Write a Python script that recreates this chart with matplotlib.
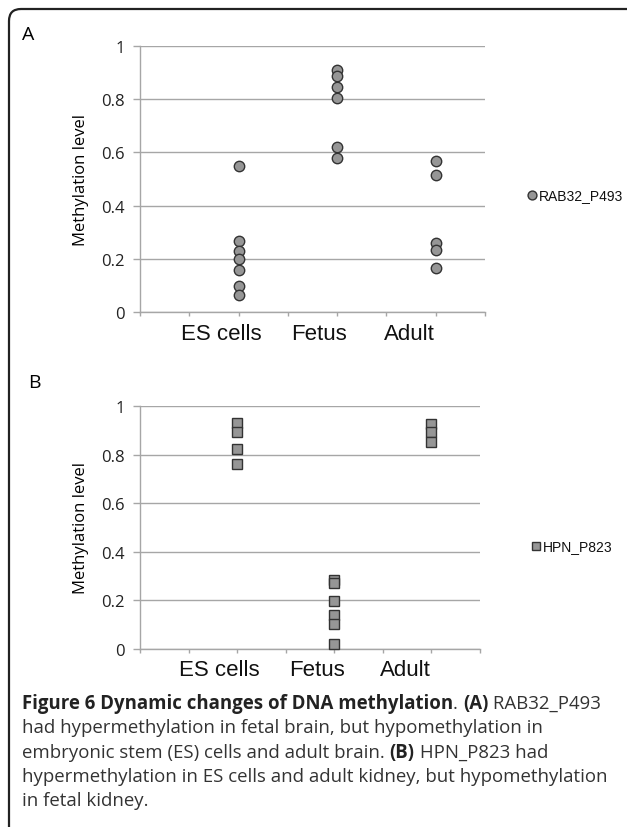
import matplotlib.pyplot as plt
import numpy as np
from matplotlib.path import Path
from matplotlib.patches import PathPatch

# --- données ---
categories = ['ES cells', 'Fetus', 'Adult']
cat_pos = [1, 2, 3]

rab32_es = [0.548, 0.266, 0.229, 0.200, 0.158, 0.098, 0.064]
rab32_fetus = [0.911, 0.886, 0.845, 0.805, 0.622, 0.580]
rab32_adult = [0.568, 0.516, 0.259, 0.232, 0.164]

hpn_es = [0.929, 0.895, 0.821, 0.763]
hpn_fetus = [0.285, 0.270, 0.197, 0.140, 0.103, 0.022]
hpn_adult = [0.926, 0.892, 0.852]

y_ticks = [0, 0.2, 0.4, 0.6, 0.8, 1]
y_tick_labels = ['0', '0.2', '0.4', '0.6', '0.8', '1']

W, H = 627, 828
fig = plt.figure(figsize=(W / 100, H / 100), dpi=100)

grid_col = '#a6a6a6'
fill_col = '#969696'
edge_col = '#333333'
label_shift = [-0.18, -0.18, -0.27]  # étiquettes décalées à gauche comme dans l'original


def panel(rect, groups, marker, ms, series, leg_xy):
    ax = fig.add_axes(rect)
    for x, vals in zip(cat_pos, groups):
        ax.plot([x] * len(vals), vals, linestyle='none', marker=marker, ms=ms,
                mfc=fill_col, mec=edge_col, mew=1.0, clip_on=False, zorder=3)
    ax.set_xlim(0, 3.5)
    ax.set_ylim(0, 1)
    ax.set_yticks(y_ticks)
    ax.set_yticklabels(y_tick_labels, fontsize=12, family='Open Sans', color='#222222')
    ax.set_xticks(np.arange(0, 3.51, 0.5))
    ax.set_xticklabels([])
    ax.tick_params(axis='x', direction='out', length=3, width=1, color=grid_col)
    ax.tick_params(axis='y', direction='out', length=5, width=1, color=grid_col, pad=6)
    ax.grid(axis='y', color=grid_col, lw=1)
    ax.set_axisbelow(True)
    for s in ['top', 'right']:
        ax.spines[s].set_visible(False)
    for s in ['left', 'bottom']:
        ax.spines[s].set_color(grid_col)
        ax.spines[s].set_linewidth(1)
    ax.set_ylabel('Methylation level', fontsize=12, family='Open Sans', labelpad=9)
    for x, lab, dx in zip(cat_pos, categories, label_shift):
        ax.text(x + dx, -0.04, lab, ha='center', va='top', fontsize=16,
                family='Liberation Sans', color='#111111', transform=ax.transData)
    # légende
    fig.lines.append(plt.Line2D([leg_xy[0] / W], [1 - leg_xy[1] / H], marker=marker,
                                ms=ms * 0.85, mfc=fill_col, mec=edge_col, mew=1.0,
                                linestyle='none', transform=fig.transFigure))
    fig.text((leg_xy[0] + 7) / W, 1 - leg_xy[1] / H, series, fontsize=10,
             family='Liberation Sans', va='center', ha='left', color='#111111')
    return ax


ax_a = panel([140 / W, 1 - 313 / H, 345 / W, 266 / H],
             [rab32_es, rab32_fetus, rab32_adult], 'o', 7.5, 'RAB32_P493', (532, 196))
ax_b = panel([140 / W, 1 - 650 / H, 340 / W, 243 / H],
             [hpn_es, hpn_fetus, hpn_adult], 's', 7.0, 'HPN_P823', (536, 547))

fig.text(22 / W, 1 - 35 / H, 'A', fontsize=14, family='Open Sans', va='center', ha='left')
fig.text(28 / W, 1 - 383 / H, 'B', fontsize=14, family='Open Sans', va='center', ha='left')

# --- cadre arrondi (haut + gauche) ---
r = 12
verts = [(9, H), (9, 10 + r), (9, 10), (9 + r, 10), (W, 10)]
codes = [Path.MOVETO, Path.LINETO, Path.CURVE3, Path.CURVE3, Path.LINETO]
verts = [(x / W, 1 - y / H) for x, y in verts]
fig.patches.append(PathPatch(Path(verts, codes), fill=False, lw=1.6, ec='#222222',
                             transform=fig.transFigure))

# --- légende de la figure ---
cap_font = 'Open Sans'
cap_col = '#333333'
fs = 13.4
y0 = 704
dy = 24.3
line1 = fig.text(22 / W, 1 - y0 / H, 'Figure 6 Dynamic changes of DNA methylation', fontsize=fs,
                 family=cap_font, weight='bold', color='#222222', va='center')
fig.canvas.draw()
renderer = fig.canvas.get_renderer()


def after(t, s, **kw):
    bb = t.get_window_extent(renderer)
    return fig.text(bb.x1 / W, t.get_position()[1], s, fontsize=fs, family=cap_font,
                    va='center', **kw)


t = after(line1, '. ', color=cap_col)
t = after(t, '(A)', color='#222222', weight='bold')
t = after(t, ' RAB32_P493', color=cap_col)

fig.text(22 / W, 1 - (y0 + dy) / H, 'had hypermethylation in fetal brain, but hypomethylation in',
         fontsize=fs, family=cap_font, color=cap_col, va='center')
l3 = fig.text(22 / W, 1 - (y0 + 2 * dy) / H, 'embryonic stem (ES) cells and adult brain. ',
              fontsize=fs, family=cap_font, color=cap_col, va='center')
fig.canvas.draw()
t = after(l3, '(B)', color='#222222', weight='bold')
t = after(t, ' HPN_P823 had', color=cap_col)
fig.text(22 / W, 1 - (y0 + 3 * dy) / H,
         'hypermethylation in ES cells and adult kidney, but hypomethylation',
         fontsize=fs, family=cap_font, color=cap_col, va='center')
fig.text(22 / W, 1 - (y0 + 4 * dy) / H, 'in fetal kidney.',
         fontsize=fs, family=cap_font, color=cap_col, va='center')

fig.savefig('out.png', dpi=100)
